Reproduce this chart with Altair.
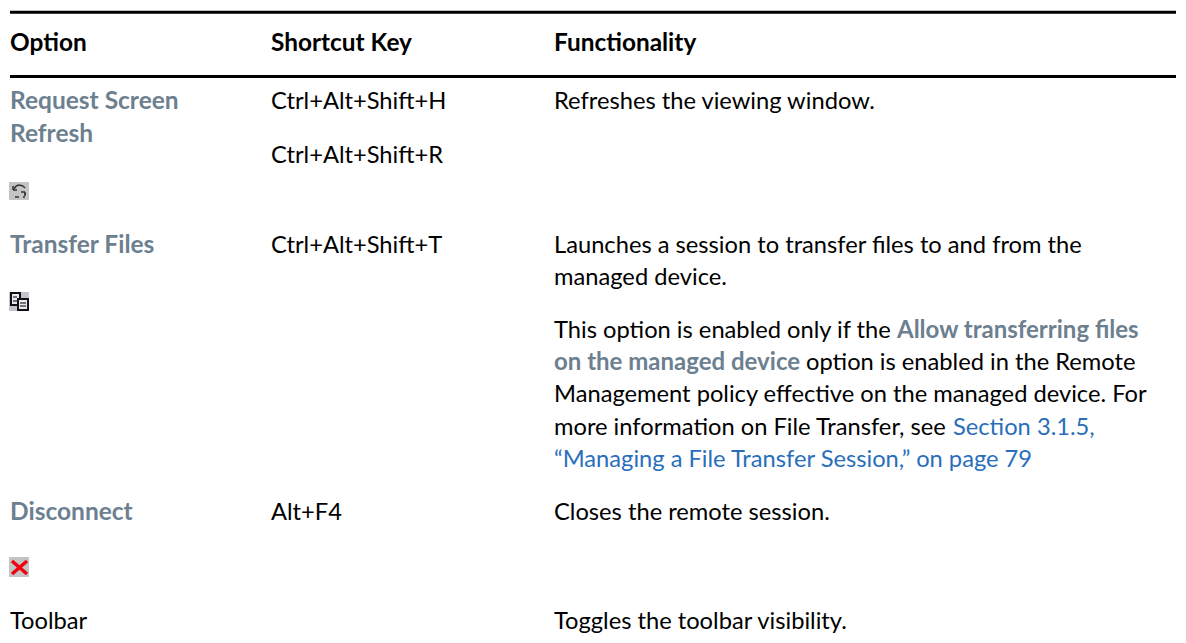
import altair as alt
import pandas as pd

BLACK = "#000000"
GREY = "#6c8090"
BLUE = "#2a6ebb"
FONT = "Lato"

rule_y = [12.3, 76.5]

txt_x = [10, 271, 554,
         10, 10, 271, 271, 554,
         10, 271, 554, 554,
         554, 897, 554, 806, 554, 554, 953, 554,
         10, 271, 554,
         10, 554]
txt_y = [44,44,44,
         102,135,102,156,102,
         246,246,246,278,
         331,331,363,363,395,428,428,460,
         513,513,513,
         622,622]
txt_s = ["Option","Shortcut Key","Functionality",
         "Request Screen","Refresh","Ctrl+Alt+Shift+H","Ctrl+Alt+Shift+R","Refreshes the viewing window.",
         "Transfer Files","Ctrl+Alt+Shift+T","Launches a session to transfer files to and from the","managed device.",
         "This option is enabled only if the","Allow transferring files","on the managed device","option is enabled in the Remote",
         "Management policy effective on the managed device. For","more information on File Transfer, see","Section 3.1.5,",
         "“Managing a File Transfer Session,” on page 79",
         "Disconnect","Alt+F4","Closes the remote session.",
         "Toolbar","Toggles the toolbar visibility."]
txt_c = ["k","k","k",
         "g","g","n","n","n",
         "g","n","n","n",
         "n","i","i","n",
         "n","n","b","b",
         "g","n","n",
         "n","n"]

icon_x = [9, 9, 9]
icon_x2 = [29, 29, 29]
icon_y = [182, 292, 557]
icon_y2 = [200, 311, 577]
icon_c = ["#c4c4c4", "#c4c4d0", "#c4c4c4"]

# Red cross of the Disconnect icon
cross_x = [12, 12]
cross_x2 = [27, 27]
cross_y = [561, 574]
cross_y2 = [574, 561]

# Refresh icon strokes
arrow_x  = [14, 16, 19, 23, 25, 15, 13, 13, 21, 25, 25]
arrow_x2 = [16, 19, 23, 25, 25, 19, 13, 17, 25, 25, 23]
arrow_y  = [189, 186, 185, 186, 193, 197, 186, 190, 192, 192, 197]
arrow_y2 = [186, 185, 186, 188, 195, 197, 190, 190, 192, 196, 197]

# Transfer icon pages
page_x = [11, 18]
page_x2 = [20, 28]
page_y = [293, 299]
page_y2 = [305, 310]

# Lines of text on the transfer pages
pline_x = [13, 13, 20, 20]
pline_x2 = [17, 17, 26, 26]
pline_y = [297, 301, 303, 306]

X = alt.Scale(domain=[8, 1178], range=[0, 1170])
Y = alt.Scale(domain=[8, 635], range=[0, 627])
xq = alt.X("x:Q", scale=X, axis=None)
yq = alt.Y("y:Q", scale=Y, axis=None)

rules = alt.Chart(pd.DataFrame({"x": [10, 10], "x2": [1176, 1176], "y": rule_y})).mark_rule(
    color="black", strokeWidth=3).encode(x=xq, x2="x2:Q", y=yq)

df = pd.DataFrame({"x": txt_x, "y": txt_y, "t": txt_s, "c": txt_c})
def layer(code, color, weight, size):
    return alt.Chart(df[df.c == code]).mark_text(
        align="left", baseline="middle", font=FONT, fontSize=size, fontWeight=weight, color=color
    ).encode(x=xq, y=yq, text="t:N")

icons = alt.Chart(pd.DataFrame({"x": icon_x, "x2": icon_x2, "y": icon_y, "y2": icon_y2, "c": icon_c})).mark_rect().encode(
    x=xq, x2="x2:Q", y=yq, y2="y2:Q",
    color=alt.Color("c:N", scale=None))

def segs(x, x2, y, y2, color, w):
    return alt.Chart(pd.DataFrame({"x": x, "x2": x2, "y": y, "y2": y2})).mark_rule(
        color=color, strokeWidth=w).encode(x=xq, x2="x2:Q", y=yq, y2="y2:Q")

pages = alt.Chart(pd.DataFrame({"x": page_x, "x2": page_x2, "y": page_y, "y2": page_y2})).mark_rect(
    fill="#e8e8f0", stroke="#111111", strokeWidth=2).encode(x=xq, x2="x2:Q", y=yq, y2="y2:Q")

plines = alt.Chart(pd.DataFrame({"x": pline_x, "x2": pline_x2, "y": pline_y})).mark_rule(
    color="#222222", strokeWidth=1.2).encode(x=xq, x2="x2:Q", y=yq)

chart = alt.layer(
    rules, icons,
    segs(arrow_x, arrow_x2, arrow_y, arrow_y2, "#333333", 1.5),
    pages, plines,
    segs(cross_x, cross_x2, cross_y, cross_y2, "#f00010", 3.5),
    layer("k", BLACK, "bold", 24.4), layer("g", GREY, "bold", 24.5), layer("i", GREY, "bold", 24),
    layer("n", BLACK, "normal", 23.7), layer("b", BLUE, "normal", 23.7),
).properties(
    width=1170, height=627, padding=0, autosize=alt.AutoSizeParams(type="none")
).configure_view(stroke=None)
chart.save("out.html", embed_options={"renderer": "svg", "actions": False})
